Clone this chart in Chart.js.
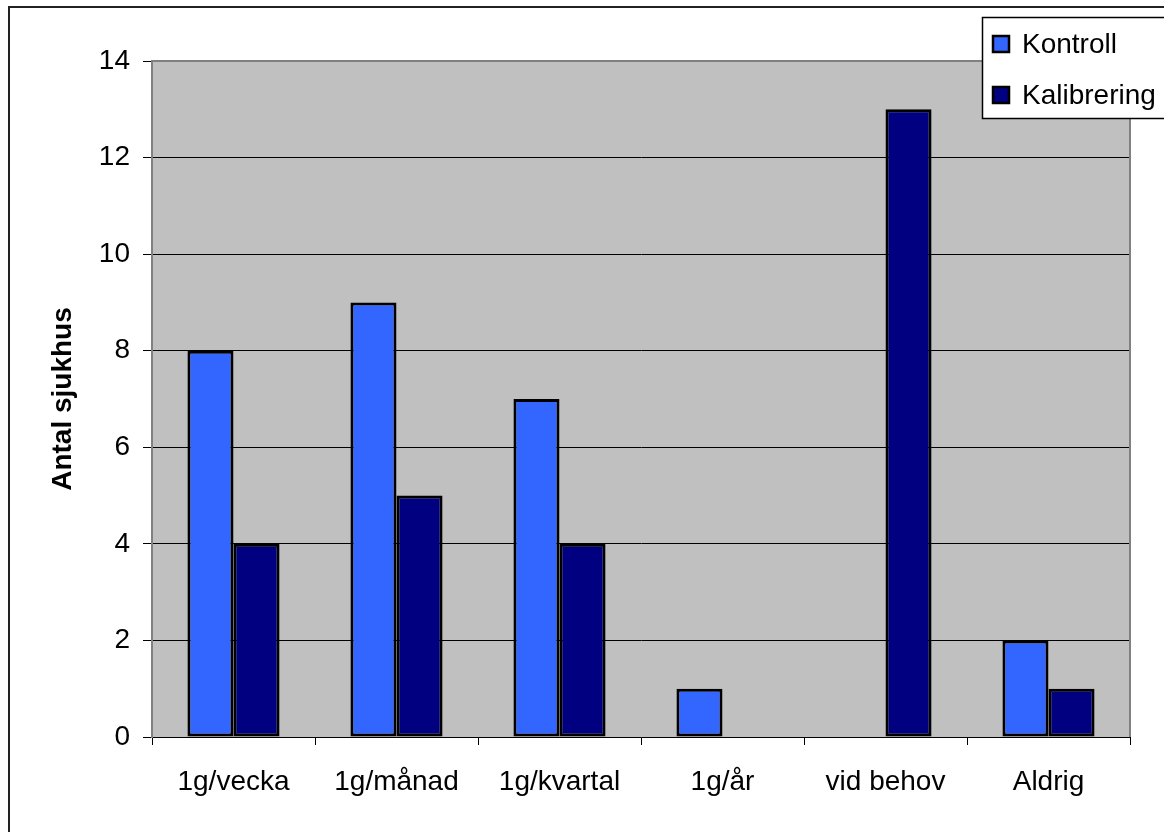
<!DOCTYPE html>
<html>
<head>
<meta charset="utf-8">
<title>Antal sjukhus</title>
<script src="https://cdn.jsdelivr.net/npm/chart.js@4"></script>
<style>
  body { margin: 0; background: #ffffff; }
  #wrap { position: relative; width: 1164px; height: 832px; }
</style>
</head>
<body>
<div id="wrap"><canvas id="myChart" width="1164" height="832"></canvas></div>
<script>

/* Data */

var kategorier = ['1g/vecka', '1g/månad', '1g/kvartal', '1g/år', 'vid behov', 'Aldrig'];
var kontroll = [8, 9, 7, 1, 0, 2];
var kalibrering = [4, 5, 4, 0, 13, 1];
var y_ticks = [0, 2, 4, 6, 8, 10, 12, 14];

var font_namn = '"Liberation Sans", Arial, sans-serif';

/* Grå bakgrund och ram runt diagrammet */

var bakgrund = {
    id: 'bakgrund',
    beforeDraw: function (chart) {
        var ctx = chart.ctx;
        var a = chart.chartArea;
        ctx.save();
        ctx.fillStyle = '#c0c0c0';
        ctx.fillRect(a.left, a.top, a.right - a.left, a.bottom - a.top);
        // yttre ram (vänster och topp syns)
        ctx.strokeStyle = '#222222';
        ctx.lineWidth = 2;
        ctx.beginPath();
        ctx.moveTo(9, 840);
        ctx.lineTo(9, 7);
        ctx.lineTo(1170, 7);
        ctx.stroke();
        ctx.restore();
    },
    afterDatasetsDraw: function (chart) {
        var ctx = chart.ctx;
        var a = chart.chartArea;
        ctx.save();
        ctx.strokeStyle = '#808080';
        ctx.lineWidth = 2;
        ctx.beginPath();
        ctx.moveTo(a.left, a.bottom);
        ctx.lineTo(a.left, a.top);
        ctx.lineTo(a.right, a.top);
        ctx.lineTo(a.right, a.bottom);
        ctx.stroke();
        ctx.restore();
    }
};

/* Legend i en ruta uppe till höger */

var legendRuta = {
    id: 'legendRuta',
    afterDraw: function (chart) {
        var ctx = chart.ctx;
        ctx.save();
        ctx.fillStyle = '#ffffff';
        ctx.fillRect(982, 17, 200, 102);
        ctx.strokeStyle = '#000000';
        ctx.lineWidth = 1.5;
        ctx.strokeRect(982.5, 17.5, 200, 101);
        ctx.font = '28px ' + font_namn;
        ctx.textBaseline = 'middle';
        var rader = [44, 95];
        chart.data.datasets.forEach(function (ds, i) {
            var y = rader[i];
            ctx.fillStyle = ds.backgroundColor;
            ctx.fillRect(992, y - 9, 18, 18);
            ctx.lineWidth = 2.5;
            ctx.strokeStyle = '#000000';
            ctx.strokeRect(993, y - 8, 16, 16);
            ctx.fillStyle = '#000000';
            ctx.fillText(ds.label, 1022, y + 1);
        });
        ctx.restore();
    }
};

var dados = {
    labels: kategorier,
    datasets: [{
        label: 'Kontroll',
        data: kontroll,
        backgroundColor: '#3366ff',
        borderColor: '#000000',
        borderWidth: 3,
        borderSkipped: false
    }, {
        label: 'Kalibrering',
        data: kalibrering,
        backgroundColor: '#000080',
        borderColor: '#000000',
        borderWidth: 3,
        borderSkipped: false
    }]
};

var opcoes = {
    responsive: false,
    animation: false,
    layout: { padding: { top: 61, right: 34, left: 0, bottom: 0 } },
    plugins: {
        legend: { display: false },
        tooltip: { enabled: false }
    },
    datasets: {
        bar: { categoryPercentage: 0.565, barPercentage: 1 }
    },
    scales: {
        x: {
            afterFit: function (s) { s.height = 95; },
            grid: {
                offset: true,
                drawOnChartArea: false,
                drawTicks: true,
                tickLength: 8,
                tickColor: '#000000'
            },
            border: { color: '#000000', width: 1 },
            ticks: {
                color: '#000000',
                padding: 20,
                font: { family: font_namn, size: 28 },
                maxRotation: 0
            }
        },
        y: {
            min: 0,
            max: 14,
            afterFit: function (s) { s.width = 152; },
            afterBuildTicks: function (s) {
                s.ticks = y_ticks.map(function (v) { return { value: v }; });
            },
            grid: {
                color: '#000000',
                lineWidth: 1,
                tickLength: 9,
                tickColor: '#000000'
            },
            border: { color: '#808080', width: 2 },
            ticks: {
                color: '#000000',
                padding: 13,
                font: { family: font_namn, size: 28 }
            },
            title: {
                display: true,
                text: 'Antal sjukhus',
                color: '#000000',
                font: { family: font_namn, size: 28, weight: 'bold' },
                padding: { top: 46, bottom: 0 }
            }
        }
    }
};

var ctx = document.getElementById('myChart').getContext('2d');
var myChart = new Chart(ctx, {
    type: 'bar',
    data: dados,
    options: opcoes,
    plugins: [bakgrund, legendRuta]
});
</script>
</body>
</html>
